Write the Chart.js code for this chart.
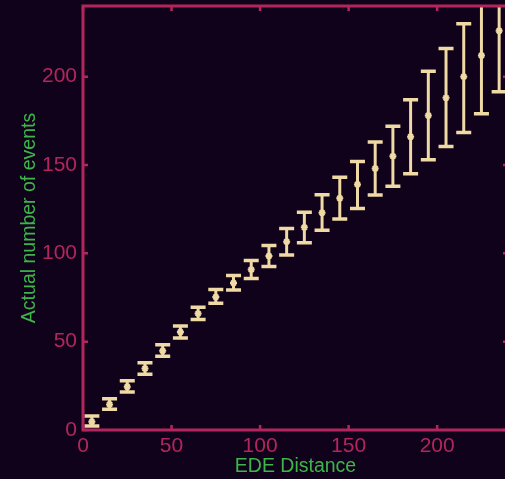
<!DOCTYPE html>
<html>
<head>
<meta charset="utf-8">
<script src="https://cdn.jsdelivr.net/npm/chart.js@4"></script>
<style>
html,body{margin:0;padding:0;background:#10021a;overflow:hidden;}
#wrap{width:515px;height:479px;position:relative;}
</style>
</head>
<body>
<div id="wrap"><canvas id="c"></canvas></div>
<script>
const xValues = [5,15,25,35,45,55,65,75,85,95,105,115,125,135,145,155,165,175,185,195,205,215,225,235];
const yValues = [4.7,14.5,24.5,34.8,44.8,55.5,65.9,75.3,83.2,90.8,98.5,106.6,114.7,123,131.2,139,148,155,166,178,188,200,212,226];
const yLow    = [2.3,11.7,21.5,31.6,41.8,52.1,62.5,71.8,79.3,85.7,92.5,99,106,113,119.4,125.4,133,138,145,153,160.5,168.4,179,191.5];
const yHigh   = [7.9,17.7,27.9,38,48.2,58.9,69.5,79.5,87.4,95.9,104.5,114,123.2,133.2,143,152,163,172,187,203,216,230,245,261];
const xTickValues = [0,50,100,150,200];
const yTickValues = [0,50,100,150,200];

const PINK = '#b3265d';
const TAN = '#efd9a4';
const GREEN = '#3db54a';
const FONT = 'Liberation Sans, Arial, sans-serif';

const errorBars = {
  id: 'errorBars',
  beforeDatasetsDraw(chart) {
    const {ctx, chartArea, scales:{x, y}} = chart;
    ctx.save();
    ctx.beginPath();
    ctx.rect(chartArea.left, chartArea.top, chartArea.right-chartArea.left, chartArea.bottom-chartArea.top);
    ctx.clip();
    ctx.strokeStyle = TAN;
    ctx.lineCap = 'butt';
    for (let i = 0; i < xValues.length; i++) {
      const px = x.getPixelForValue(xValues[i]);
      const pl = y.getPixelForValue(yLow[i]);
      const ph = y.getPixelForValue(yHigh[i]);
      ctx.lineWidth = 3;
      ctx.beginPath();
      ctx.moveTo(px, pl); ctx.lineTo(px, ph);
      ctx.stroke();
      ctx.lineWidth = 3.5;
      ctx.beginPath();
      ctx.moveTo(px-7.5, pl); ctx.lineTo(px+7.5, pl);
      ctx.moveTo(px-7.5, ph); ctx.lineTo(px+7.5, ph);
      ctx.stroke();
    }
    ctx.restore();
  }
};

const frame = {
  id: 'frame',
  afterDatasetsDraw(chart) {
    const {ctx, chartArea:{left,right,top,bottom}, scales:{x, y}} = chart;
    ctx.save();
    ctx.strokeStyle = PINK;
    ctx.lineWidth = 3;
    ctx.strokeRect(left, top, right-left, bottom-top);
    ctx.lineWidth = 2.5;
    ctx.beginPath();
    x.ticks.forEach(t => {
      const px = x.getPixelForValue(t.value);
      ctx.moveTo(px, bottom); ctx.lineTo(px, bottom-5);
      ctx.moveTo(px, top); ctx.lineTo(px, top+5);
    });
    y.ticks.forEach(t => {
      const py = y.getPixelForValue(t.value);
      ctx.moveTo(left, py); ctx.lineTo(left+5, py);
      ctx.moveTo(right, py); ctx.lineTo(right-5, py);
    });
    ctx.stroke();
    ctx.restore();
  }
};

new Chart(document.getElementById('c'), {
  type: 'scatter',
  data: {
    datasets: [{
      data: xValues.map((v,i) => ({x: v, y: yValues[i]})),
      pointStyle: 'star',
      radius: 3.5,
      borderWidth: 2,
      borderColor: TAN,
      backgroundColor: TAN
    }]
  },
  options: {
    responsive: true,
    maintainAspectRatio: false,
    animation: false,
    layout: {padding: {left: 0, right: 7, top: 6, bottom: 0}},
    plugins: {legend: {display: false}, tooltip: {enabled: false}},
    scales: {
      x: {
        type: 'linear', min: 0, max: 240,
        afterBuildTicks: s => { s.ticks = xTickValues.map(v => ({value: v})); },
        afterFit: s => { s.height = 49; s.paddingLeft = 0; s.paddingRight = 0; },
        grid: {display: false, drawTicks: false},
        border: {display: false},
        ticks: {color: PINK, font: {family: FONT, size: 21}, padding: 4, maxRotation: 0},
        title: {display: true, text: 'EDE Distance', color: GREEN, font: {family: FONT, size: 19.5}, padding: {top: 0, bottom: 1}}
      },
      y: {
        type: 'linear', min: 0, max: 240,
        afterBuildTicks: s => { s.ticks = yTickValues.map(v => ({value: v})); },
        afterFit: s => { s.width = 83; s.paddingTop = 0; s.paddingBottom = 0; },
        grid: {display: false, drawTicks: false},
        border: {display: false},
        ticks: {color: PINK, font: {family: FONT, size: 21}, padding: 6},
        title: {display: true, text: 'Actual number of events', color: GREEN, font: {family: FONT, size: 19.5}, padding: {top: 18, bottom: 0}}
      }
    }
  },
  plugins: [errorBars, frame]
});
</script>
</body>
</html>
